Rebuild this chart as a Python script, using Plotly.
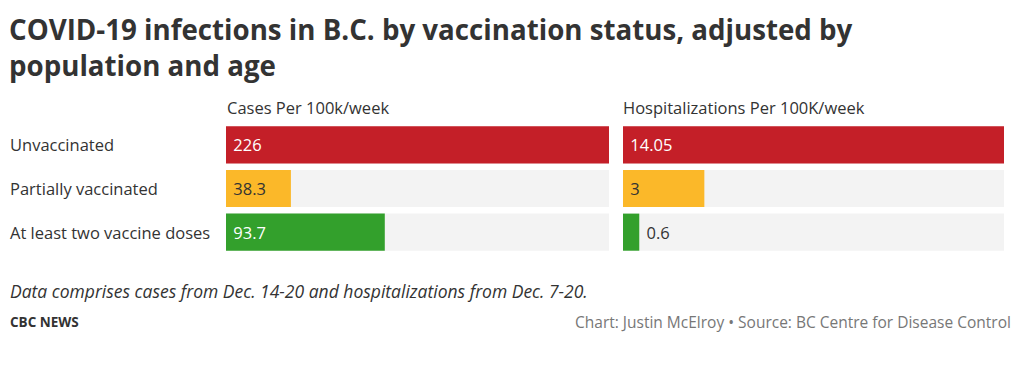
import plotly.graph_objects as go

categories = ["Unvaccinated", "Partially vaccinated", "At least two vaccine doses"]
cases = [226, 38.3, 93.7]
hosp = [14.05, 3, 0.6]
colors = ["#c41f28", "#fbb829", "#33a02c"]
text_colors = ["#ffffff", "#333333", "#ffffff"]
panel_titles = ["Cases Per 100k/week", "Hospitalizations Per 100K/week"]
title = "COVID-19 infections in B.C. by vaccination status, adjusted by<br>population and age"
footnote = "Data comprises cases from Dec. 14-20 and hospitalizations from Dec. 7-20."
brand = "CBC NEWS"
credit = "Chart: Justin McElroy • Source: BC Centre for Disease Control"

FONT = "Open Sans"
OFF = 8            # default body margin of the html page
W, H = 1024 - OFF, 372 - OFF
PLOT_TOP, PLOT_BOT = 123, 254   # in reference pixels
MT, MB = PLOT_TOP - OFF, 372 - PLOT_BOT


def px(x):
    return (x - OFF) / W


def py(y):
    return (PLOT_BOT - y) / (PLOT_BOT - PLOT_TOP)


fig = go.Figure()

for vals, xa in [(cases, "x"), (hosp, "x2")]:
    mx = max(vals)
    fig.add_trace(go.Bar(
        y=categories, x=[mx] * len(vals), orientation="h",
        marker=dict(color="#f3f3f3", line=dict(width=0)),
        xaxis=xa, yaxis="y", hoverinfo="skip", showlegend=False))
    positions = ["inside" if v / mx > 0.08 else "outside" for v in vals]
    tcols = [text_colors[j] if positions[j] == "inside" else "#333333" for j in range(len(vals))]
    fig.add_trace(go.Bar(
        y=categories, x=vals, orientation="h",
        marker=dict(color=colors, line=dict(width=0)),
        text=["&nbsp;" + str(v) for v in vals], textposition=positions,
        insidetextanchor="start", constraintext="none",
        textfont=dict(family=FONT, size=16.5, color=tcols),
        cliponaxis=False,
        xaxis=xa, yaxis="y", showlegend=False))

fig.update_layout(
    width=W, height=H,
    margin=dict(l=0, r=0, t=MT, b=MB, pad=0),
    paper_bgcolor="white", plot_bgcolor="white",
    barmode="overlay", bargap=0.15,
    font=dict(family=FONT, color="#333333"),
    xaxis=dict(domain=[px(226), px(609)], range=[0, max(cases)], visible=False, fixedrange=True),
    xaxis2=dict(domain=[px(623), px(1004)], range=[0, max(hosp)], visible=False, fixedrange=True),
    yaxis=dict(autorange="reversed", showticklabels=False, ticks="", showgrid=False,
               zeroline=False, fixedrange=True),
    showlegend=False,
)

for c in categories:
    fig.add_annotation(x=px(8), xref="paper", y=c, yref="y", text=c, showarrow=False,
                       xanchor="left", font=dict(family=FONT, size=16.5, color="#333333"))

fig.add_annotation(x=px(7), y=py(8), xref="paper", yref="paper", yanchor="top", xanchor="left",
                   text="<b>" + title + "</b>", showarrow=False, align="left",
                   font=dict(family=FONT, size=27.7, color="#333333"))
fig.add_annotation(x=px(225), y=py(108), xref="paper", yref="paper", xanchor="left", yanchor="middle",
                   text=panel_titles[0], showarrow=False, font=dict(family=FONT, size=16.5, color="#333333"))
fig.add_annotation(x=px(621), y=py(108), xref="paper", yref="paper", xanchor="left", yanchor="middle",
                   text=panel_titles[1], showarrow=False, font=dict(family=FONT, size=16.5, color="#333333"))
fig.add_annotation(x=px(8), y=py(291), xref="paper", yref="paper", xanchor="left", yanchor="middle",
                   text="<i>" + footnote + "</i>", showarrow=False, font=dict(family=FONT, size=17.5, color="#333333"))
fig.add_annotation(x=px(8), y=py(322), xref="paper", yref="paper", xanchor="left", yanchor="middle",
                   text="<b>" + brand + "</b>", showarrow=False, font=dict(family=FONT, size=13.5, color="#333333"))
fig.add_annotation(x=px(1013), y=py(322), xref="paper", yref="paper", xanchor="right", yanchor="middle",
                   text=credit, showarrow=False, font=dict(family=FONT, size=15.5, color="#777777"))

fig.write_html("out.html")
